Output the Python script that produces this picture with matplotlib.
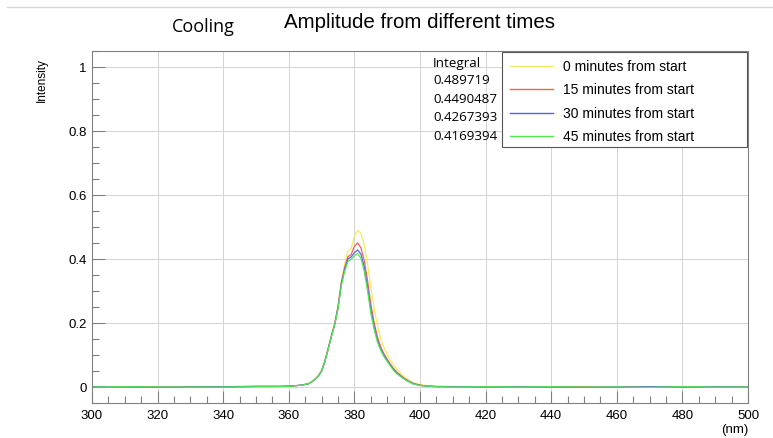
import matplotlib
matplotlib.use("Agg")
import matplotlib.pyplot as plt
from matplotlib.ticker import MultipleLocator, FuncFormatter
from matplotlib.lines import Line2D
from matplotlib.patches import Rectangle

SANS = "Liberation Sans"
OPEN = "Open Sans"

# ---- data ----
wavelength = [300, 310, 320, 330, 340, 350, 355, 358, 360, 362, 364, 366, 367, 368, 369, 370,
              371, 372, 373, 374, 375, 376, 377, 378, 379, 380, 381, 382, 383, 384,
              385, 386, 387, 388, 389, 390, 391, 392, 393, 394, 395, 396, 397, 398,
              400, 402, 405, 410, 420, 430, 440, 450, 460, 470, 480, 490, 500]

int_0min = [0.001, 0.000, 0.001, -0.001, 0.001, 0.002, 0.002, 0.002, 0.003, 0.004, 0.006, 0.011, 0.017, 0.025, 0.036, 0.053,
            0.083, 0.122, 0.163, 0.202, 0.254, 0.330, 0.382, 0.425, 0.432, 0.472, 0.490, 0.480, 0.445, 0.385,
            0.312, 0.248, 0.192, 0.152, 0.124, 0.102, 0.084, 0.068, 0.055, 0.044, 0.034, 0.026, 0.019, 0.014,
            0.008, 0.004, 0.002, 0.001, 0.000, 0.001, -0.001, 0.000, 0.001, 0.000, 0.001, -0.001, 0.000]
int_15min = [0.000, 0.001, 0.000, 0.001, -0.001, 0.002, 0.002, 0.002, 0.003, 0.004, 0.006, 0.010, 0.016, 0.024, 0.035, 0.051,
             0.081, 0.120, 0.160, 0.198, 0.250, 0.325, 0.372, 0.407, 0.414, 0.440, 0.450, 0.435, 0.395, 0.333,
             0.260, 0.202, 0.157, 0.126, 0.104, 0.087, 0.071, 0.057, 0.046, 0.037, 0.029, 0.022, 0.016, 0.011,
             0.006, 0.003, 0.002, 0.001, 0.001, 0.000, 0.000, 0.001, -0.001, 0.001, 0.000, 0.000, 0.001]
int_30min = [0.001, 0.000, -0.001, 0.000, 0.001, 0.002, 0.002, 0.002, 0.003, 0.004, 0.006, 0.010, 0.016, 0.024, 0.034, 0.050,
             0.080, 0.119, 0.159, 0.196, 0.247, 0.321, 0.366, 0.400, 0.406, 0.420, 0.428, 0.415, 0.375, 0.313,
             0.242, 0.189, 0.147, 0.119, 0.099, 0.083, 0.068, 0.054, 0.043, 0.035, 0.027, 0.020, 0.015, 0.010,
             0.005, 0.003, 0.001, 0.001, 0.000, 0.001, 0.000, -0.001, 0.000, 0.001, 0.000, 0.001, 0.000]
int_45min = [0.000, 0.001, 0.000, 0.000, 0.000, 0.001, 0.001, 0.002, 0.002, 0.004, 0.006, 0.010, 0.016, 0.024, 0.034, 0.049,
             0.079, 0.117, 0.157, 0.194, 0.244, 0.316, 0.360, 0.392, 0.399, 0.410, 0.417, 0.402, 0.362, 0.301,
             0.231, 0.181, 0.141, 0.115, 0.095, 0.080, 0.065, 0.051, 0.041, 0.033, 0.026, 0.019, 0.014, 0.009,
             0.005, 0.003, 0.001, 0.000, 0.001, 0.000, 0.001, 0.000, 0.000, -0.001, 0.001, 0.000, 0.000]

series_labels = ["0 minutes from start", "15 minutes from start",
                 "30 minutes from start", "45 minutes from start"]
integrals = ["0.489719", "0.4490487", "0.4267393", "0.4169394"]
colors = ["#f4ec60", "#f06060", "#6060f0", "#50e850"]

W, H = 773, 439
fig = plt.figure(figsize=(W / 100, H / 100), dpi=100)
ax = fig.add_axes([92 / W, 1 - 404 / H, (748 - 92) / W, (404 - 52) / H])

for ys, c, lab in zip([int_0min, int_15min, int_30min, int_45min], colors, series_labels):
    ax.plot(wavelength, ys, color=c, lw=0.9, label=lab)

ax.set_xlim(300, 500)
ax.set_ylim(-0.05, 1.05)
ax.xaxis.set_major_locator(MultipleLocator(20))
ax.xaxis.set_minor_locator(MultipleLocator(5))
ax.yaxis.set_major_locator(MultipleLocator(0.2))
ax.yaxis.set_minor_locator(MultipleLocator(0.05))
ax.yaxis.set_major_formatter(FuncFormatter(
    lambda v, p: "0" if abs(v) < 1e-9 else ("1" if abs(v - 1) < 1e-9 else f"{v:.1f}")))
ax.grid(True, which="major", color="#d4d4d4", lw=0.7)
ax.set_axisbelow(True)
ax.tick_params(which="both", direction="in", color="#808080", width=0.8)
ax.tick_params(which="major", length=9, labelsize=9.5, pad=4)
ax.tick_params(which="minor", length=5)
ax.tick_params(axis="x", which="both", top=False)
ax.tick_params(axis="y", which="both", right=False)
for lab in ax.get_xticklabels() + ax.get_yticklabels():
    lab.set_fontfamily(SANS)
for s in ax.spines.values():
    s.set_color("#808080")
    s.set_linewidth(0.8)

# titles
fig.text(419 / W, 1 - 22 / H, "Amplitude from different times", ha="center", va="center",
         fontsize=14.8, family=SANS)
fig.text(203 / W, 1 - 27 / H, "Cooling", ha="center", va="center", fontsize=13, family=OPEN)
fig.text(42 / W, 1 - 80 / H, "Intensity", rotation=90, ha="center", va="center",
         fontsize=8.5, family=SANS)
fig.text(735 / W, 1 - 430 / H, "(nm)", ha="center", va="center", fontsize=9.5, family=SANS)

# integral column
fig.text(433 / W, 1 - 63 / H, "Integral", ha="left", va="center", fontsize=9.6, family=OPEN)
for i, v in enumerate(integrals):
    fig.text(433 / W, 1 - (81 + 18.5 * i) / H, v, ha="left", va="center", fontsize=9.6, family=OPEN)

# legend box
fig.patches.append(Rectangle((502 / W, 1 - 148 / H), (747 - 502) / W, (148 - 53) / H,
                             transform=fig.transFigure, facecolor="white", edgecolor="#555555",
                             lw=0.8, zorder=5))
for i, (c, lab) in enumerate(zip(colors, series_labels)):
    yy = 1 - (67 + 23.3 * i) / H
    fig.lines.append(Line2D([510 / W, 553 / W], [yy, yy], transform=fig.transFigure,
                            color=c, lw=1.0, zorder=6))
    fig.text(563 / W, yy, lab, ha="left", va="center", fontsize=10, family=SANS, zorder=7)

# top frame line
fig.lines.append(Line2D([7 / W, 1], [1 - 7.5 / H, 1 - 7.5 / H], transform=fig.transFigure,
                        color="#d8d8d8", lw=1.0))

fig.savefig("out.png", dpi=100)
